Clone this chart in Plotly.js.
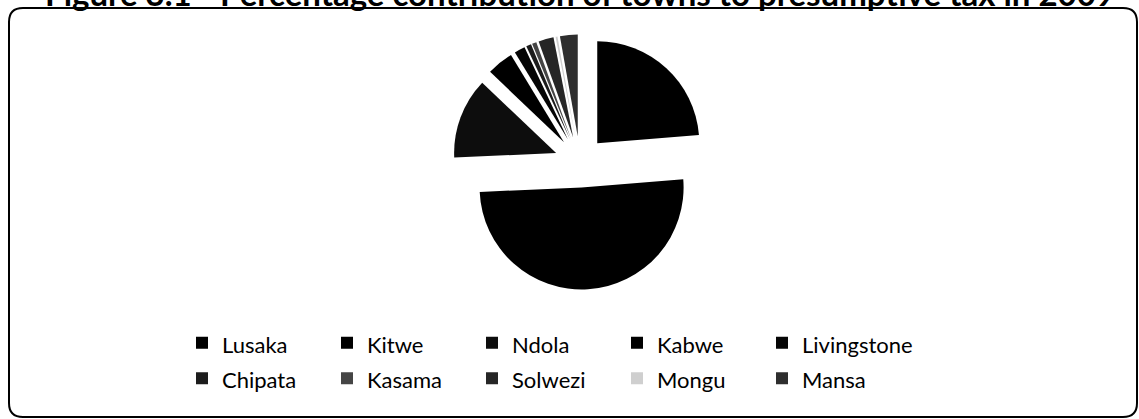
<!DOCTYPE html>
<html><head><meta charset="utf-8">
<script src="https://cdn.plot.ly/plotly-3.0.1.min.js"></script>
<style>html,body{margin:0;padding:0;background:#fff}#chart{width:1139px;height:419px}</style>
</head><body><div id="chart"></div>
<script>
// ---- data ----
const towns = ['Lusaka','Kitwe','Ndola','Kabwe','Livingstone','Chipata','Kasama','Solwezi','Mongu','Mansa'];
const shares = [23.7, 50.6, 12.8, 4.2, 1.7, 0.8, 0.7, 2.4, 0.3, 2.8];
const sliceColors = ['#000000','#000000','#0d0d0d','#000000','#050505','#1c1c1c','#454545','#262626','#cfcfcf','#2e2e2e'];
const titleText = 'Figure 3.1 - Percentage contribution of towns to presumptive tax in 2009';

// ---- layout helpers (pixel -> paper) ----
const W = 1139, H = 419, ML = 170, MR = 169;
const GW = W - ML - MR;
const xp = px => (px - ML) / GW;
const yp = py => 1 - py / H;

// rounded frame
const L = 9, R = 1137, T = 8, B = 417, rc = 14;
const P = (x, y) => xp(x) + ',' + yp(y);
const framePath = 'M' + P(L + rc, T) + ' L' + P(R - rc, T) + ' Q' + P(R, T) + ' ' + P(R, T + rc) +
  ' L' + P(R, B - rc) + ' Q' + P(R, B) + ' ' + P(R - rc, B) +
  ' L' + P(L + rc, B) + ' Q' + P(L, B) + ' ' + P(L, B - rc) +
  ' L' + P(L, T + rc) + ' Q' + P(L, T) + ' ' + P(L + rc, T) + ' Z';

const legendLabels = towns.map(t => '<span style="font-size:22px">' + t + '</span>');

const trace = {
  type: 'pie',
  labels: legendLabels,
  values: shares,
  sort: false,
  direction: 'clockwise',
  rotation: 0,
  pull: 0.25,
  textinfo: 'none',
  hoverinfo: 'label+percent',
  marker: {colors: sliceColors, line: {width: 0}},
  domain: {x: [xp(452.5), xp(707.5)], y: [yp(289.5), yp(34.5)]}
};

const layout = {
  width: W, height: H,
  margin: {l: ML, r: MR, t: 0, b: 0, pad: 0},
  paper_bgcolor: '#ffffff',
  plot_bgcolor: '#ffffff',
  showlegend: true,
  legend: {
    orientation: 'h',
    x: xp(182), xanchor: 'left',
    y: yp(320), yanchor: 'top',
    font: {family: 'Lato, "Open Sans", sans-serif', size: 25, color: '#000'},
    entrywidth: 100, entrywidthmode: 'pixels',
    bgcolor: 'rgba(0,0,0,0)', borderwidth: 0
  },
  shapes: [{
    type: 'path', xref: 'paper', yref: 'paper', path: framePath,
    line: {color: '#000', width: 2}, fillcolor: 'rgba(0,0,0,0)', layer: 'below'
  }],
  annotations: [{
    text: '<b>' + titleText + '</b>',
    xref: 'paper', yref: 'paper', x: xp(580), y: yp(-7), xanchor: 'center', yanchor: 'middle',
    showarrow: false,
    font: {family: 'Lato, "Open Sans", sans-serif', size: 33, color: '#000'}
  }]
};

Plotly.newPlot('chart', [trace], layout, {displayModeBar: false, staticPlot: true}).then(gd => {
  // let the last legend column show its full text (legend box clips to entry width)
  gd.querySelectorAll('.legend [clip-path]').forEach(el => el.removeAttribute('clip-path'));
});
</script>
</body></html>
